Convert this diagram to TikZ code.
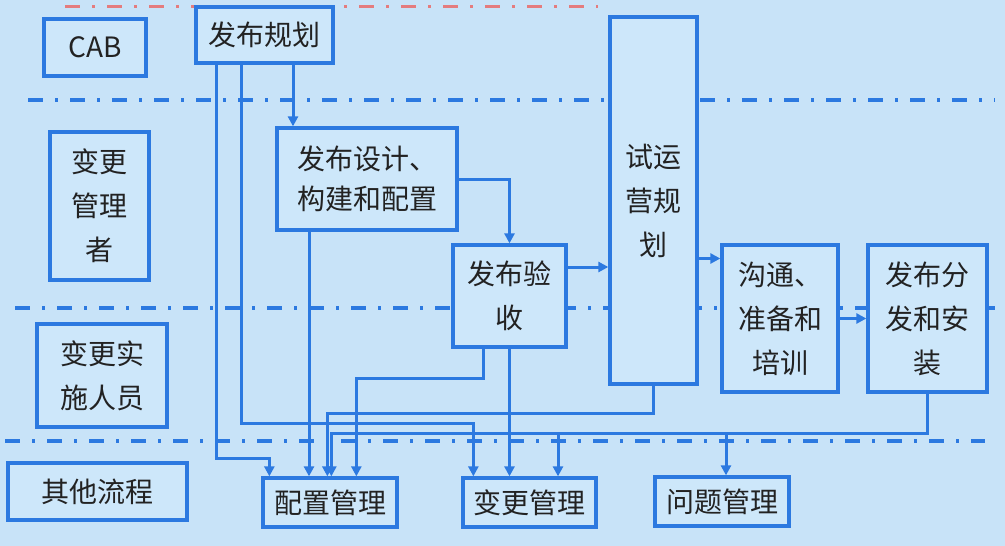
\documentclass[tikz,border=0pt]{standalone}
\usepackage{fontspec}
\newfontfamily\cjk{Noto Sans CJK SC}
\usetikzlibrary{arrows.meta}
\definecolor{bg}{HTML}{C8E3F8}
\definecolor{boxfill}{HTML}{CDE7FA}
\definecolor{ln}{HTML}{2C79E0}
\definecolor{rd}{HTML}{E47C7E}
\definecolor{txt}{HTML}{222222}
\begin{document}
\begin{tikzpicture}[x=1pt,y=-1pt,
  box/.style={draw=ln, line width=3.3pt, fill=boxfill, inner sep=0pt, text=txt, align=center, font=\cjk\fontsize{28}{44}\selectfont},
  arr/.style={draw=ln, line width=3pt, -{Triangle[length=10pt,width=10pt]}},
  lane/.style={draw=ln, line width=3.3pt, dash pattern=on 15pt off 12pt on 3pt off 12pt},
]
\fill[bg] (0,0) rectangle (1005,546);
\useasboundingbox (0,0) rectangle (1005,546);

% lane separators
\coordinate (r1) at (65,6);   \coordinate (r2) at (598,6);
\coordinate (l1a) at (28,100); \coordinate (l1b) at (995,100);
\coordinate (l2a) at (15,308); \coordinate (l2b) at (995,308);
\coordinate (l3a) at (5,441);  \coordinate (l3b) at (985,441);
\draw[lane, draw=rd, line width=3pt] (r1) -- (r2);
\draw[lane] (l1a) -- (l1b);
\draw[lane] (l2a) -- (l2b);
\draw[lane] (l3a) -- (l3b);

% role boxes
\node[box, minimum width=102pt, minimum height=57pt] (cab) at (95,47.5) {CAB};
\node[box, minimum width=99pt, minimum height=148pt] (cm) at (99.5,206) {变更\\管理\\者};
\node[box, minimum width=130pt, minimum height=103pt] (impl) at (102,375.5) {变更实\\施人员};
\node[box, minimum width=179pt, minimum height=57pt] (other) at (97.5,491.5) {其他流程};

% process boxes
\node[box, minimum width=137pt, minimum height=56pt] (plan) at (264.5,35) {发布规划};
\node[box, minimum width=180pt, minimum height=102pt, font=\cjk\fontsize{28}{40}\selectfont] (design) at (367,179) {发布设计、\\构建和配置};
\node[box, minimum width=113pt, minimum height=102pt] (accept) at (509.5,296) {发布验\\收};
\node[box, minimum width=87pt, minimum height=367pt] (trial) at (653.5,200.5) {试运\\营规\\划};
\node[box, minimum width=116pt, minimum height=147pt] (comm) at (780,318.5) {沟通、\\准备和\\培训};
\node[box, minimum width=119pt, minimum height=147pt] (dist) at (927.5,318.5) {发布分\\发和安\\装};
\node[box, minimum width=134pt, minimum height=49pt] (config) at (330,502.5) {配置管理};
\node[box, minimum width=133pt, minimum height=49pt] (chg) at (529.5,502.5) {变更管理};
\node[box, minimum width=134pt, minimum height=49pt] (qm) at (722,501.5) {问题管理};

% helper coordinates
\coordinate (p216) at (216,458);
\coordinate (p241) at (241,423);
\coordinate (p293) at (293,0);
\coordinate (p309) at (309,0);
\coordinate (p483) at (483,378);
\coordinate (p413) at (0,413);
\coordinate (p433) at (0,433);
\coordinate (p558) at (558,433);
\coordinate (p726) at (726,433);

% connectors
\draw[arr] (plan.south -| p216) -- (p216) -| ([xshift=8pt]config.north west);
\draw[arr] (plan.south -| p241) -- (p241) -| ([xshift=12pt]chg.north west);
\draw[arr] (plan.south -| p293) -- (design.north -| p293);
\draw[arr] (design.east) -| (accept.north);
\draw[arr] (design.south -| p309) -- (config.north -| p309);
\draw[arr] ([yshift=29pt]accept.east) -- ([yshift=29pt]accept.east -| trial.west);
\draw[arr] (accept.south -| p483) -- (p483) -| ([xshift=95pt]config.north west);
\draw[arr] (accept.south) -- (accept.south |- chg.north);
\draw[arr] (trial.south) -- (trial.south |- p413) -| ([xshift=66pt]config.north west);
\draw[arr] ([yshift=60pt]comm.west -| trial.east) -- ([yshift=60pt]comm.west);
\draw[arr] (comm.east) -- (dist.west);
\draw[arr] (dist.south) -- (dist.south |- p433) -| ([xshift=70pt]config.north west);
\draw[arr] (p558) -- (chg.north -| p558);
\draw[arr] (p726) -- (qm.north -| p726);
\end{tikzpicture}
\end{document}
